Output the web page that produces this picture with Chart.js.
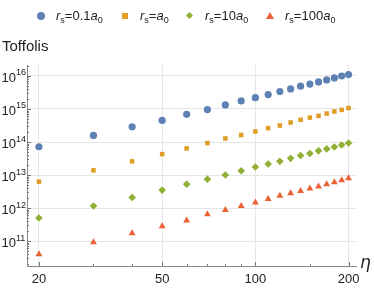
<!DOCTYPE html>
<html>
<head>
<meta charset="utf-8">
<script src="https://cdn.jsdelivr.net/npm/chart.js@4"></script>
<style>
  body { margin: 0; background: #fff; }
  #wrap { position: relative; width: 374px; height: 289px; font-family: "Liberation Sans", Arial, sans-serif; }
  #legend { position: absolute; top: 6px; left: 0; width: 374px; height: 20px; font-size: 13px; color: #222; }
  .item { position: absolute; top: 0; white-space: nowrap; line-height: 20px; }
  .item sub { font-size: 9px; vertical-align: -3px; line-height: 0; }
  .mk { position: absolute; }
  #ytitle { position: absolute; left: 2px; top: 37px; font-size: 15px; color: #222; }
  canvas { position: absolute; left: 0; top: 0; }
</style>
</head>
<body>
<div id="wrap">
  <canvas id="chart" width="374" height="289"></canvas>
  <div id="legend">
    <span class="mk" style="left:37px;top:6px;width:8px;height:8px;border-radius:50%;background:#5e81b5"></span>
    <span class="item" style="left:56px"><i>r</i><sub>s</sub>=0.1<i>a</i><sub>0</sub></span>
    <span class="mk" style="left:122px;top:7px;width:6px;height:6px;background:#e19c24"></span>
    <span class="item" style="left:140px"><i>r</i><sub>s</sub>=<i>a</i><sub>0</sub></span>
    <span class="mk" style="left:187px;top:7px;width:5px;height:5px;background:#8fb032;transform:rotate(45deg)"></span>
    <span class="item" style="left:205px"><i>r</i><sub>s</sub>=10<i>a</i><sub>0</sub></span>
    <span class="mk" style="left:266px;top:6px;width:0;height:0;border-left:4px solid transparent;border-right:4px solid transparent;border-bottom:7px solid #eb6235"></span>
    <span class="item" style="left:285px"><i>r</i><sub>s</sub>=100<i>a</i><sub>0</sub></span>
  </div>
  <div id="ytitle">Toffolis</div>
</div>
<script>
// eta values
const etas = [20, 30, 40, 50, 60, 70, 80, 90, 100, 110, 120, 130, 140, 150, 160, 170, 180, 190, 200];

// Toffoli counts
const rs01 = [7.2e13, 1.58e14, 2.9e14, 4.5e14, 6.9e14, 9.6e14, 1.33e15, 1.76e15, 2.2e15, 2.73e15,
              3.36e15, 4.05e15, 4.9e15, 5.7e15, 6.6e15, 7.6e15, 8.7e15, 1.0e16, 1.1e16];
const rs1 = [6.3e12, 1.39e13, 2.6e13, 4.3e13, 6.4e13, 9.3e13, 1.28e14, 1.63e14, 2.09e14, 2.64e14,
             3.16e14, 3.9e14, 4.7e14, 5.5e14, 6.2e14, 7.3e14, 8.4e14, 9.4e14, 1.07e15];
const rs10 = [5.0e11, 1.15e12, 2.1e12, 3.5e12, 5.3e12, 7.5e12, 1.0e13, 1.35e13, 1.75e13, 2.15e13,
              2.6e13, 3.2e13, 3.9e13, 4.5e13, 5.4e13, 6.2e13, 7.1e13, 8.1e13, 9.3e13];
const rs100 = [4.0e10, 9.3e10, 1.74e11, 2.8e11, 4.2e11, 6.5e11, 8.8e11, 1.16e12, 1.47e12, 1.87e12,
               2.35e12, 2.83e12, 3.3e12, 3.9e12, 4.5e12, 5.3e12, 6.1e12, 7.0e12, 8.0e12];

const xMajor = [20, 50, 100, 200];
const xMinor = [30, 40, 60, 70, 80, 90, 150];
const yExps = [11, 12, 13, 14, 15, 16];

const toPts = arr => arr.map((v, i) => ({ x: etas[i], y: v }));

// draws tick marks and labels (Mathematica style, ticks pointing inward)
const axisDeco = {
    id: 'axisDeco',
    afterDraw(chart) {
        const ctx = chart.ctx;
        const xs = chart.scales.x, ys = chart.scales.y;
        const ca = chart.chartArea;
        ctx.save();
        ctx.strokeStyle = '#777';
        ctx.lineWidth = 1;
        ctx.fillStyle = '#222';

        // y ticks
        for (let k = 10; k <= 16; k++) {
            for (let m = 1; m <= 9; m++) {
                const v = m * Math.pow(10, k);
                const py = ys.getPixelForValue(v);
                if (py < ca.top || py > ca.bottom) continue;
                const len = m === 1 ? 4 : 2;
                ctx.beginPath();
                ctx.moveTo(ca.left, Math.round(py) + 0.5);
                ctx.lineTo(ca.left + len, Math.round(py) + 0.5);
                ctx.stroke();
            }
        }
        yExps.forEach(e => {
            const py = ys.getPixelForValue(Math.pow(10, e));
            ctx.font = '13px "Liberation Sans", Arial, sans-serif';
            ctx.textAlign = 'right';
            ctx.textBaseline = 'middle';
            ctx.fillText('10', 16, py + 2);
            ctx.font = '9px "Liberation Sans", Arial, sans-serif';
            ctx.textAlign = 'left';
            ctx.fillText(String(e), 16, py - 3);
        });

        // x ticks
        xMajor.concat(xMinor).forEach(v => {
            const px = xs.getPixelForValue(v);
            const len = xMajor.includes(v) ? 4 : 2;
            ctx.beginPath();
            ctx.moveTo(Math.round(px) + 0.5, ca.bottom);
            ctx.lineTo(Math.round(px) + 0.5, ca.bottom - len);
            ctx.stroke();
        });
        ctx.font = '13px "Liberation Sans", Arial, sans-serif';
        ctx.textAlign = 'center';
        ctx.textBaseline = 'middle';
        xMajor.forEach(v => {
            ctx.fillText(String(v), xs.getPixelForValue(v), ca.bottom + 13);
        });

        // axis label
        ctx.font = 'italic 17px "DejaVu Sans", sans-serif';
        ctx.textAlign = 'left';
        ctx.fillText('η', ca.right + 4, ca.bottom - 2);
        ctx.restore();
    }
};

const ctx = document.getElementById('chart').getContext('2d');
new Chart(ctx, {
    type: 'scatter',
    data: {
        datasets: [
            { data: toPts(rs01), pointStyle: 'circle', radius: 3.6, backgroundColor: '#5e81b5', borderWidth: 0 },
            { data: toPts(rs1), pointStyle: 'rect', radius: 3.2, backgroundColor: '#e19c24', borderWidth: 0 },
            { data: toPts(rs10), pointStyle: 'rectRot', radius: 3.8, backgroundColor: '#8fb032', borderWidth: 0 },
            { data: toPts(rs100), pointStyle: 'triangle', radius: 4, backgroundColor: '#eb6235', borderWidth: 0 }
        ]
    },
    options: {
        responsive: false,
        animation: false,
        events: [],
        layout: { padding: { left: 27, right: 18, top: 65, bottom: 23 } },
        plugins: { legend: { display: false }, tooltip: { enabled: false } },
        scales: {
            x: {
                type: 'logarithmic',
                min: 18.3,
                max: 211.4,
                afterBuildTicks: s => { s.ticks = xMajor.map(v => ({ value: v })); },
                ticks: { display: false },
                grid: { color: '#e6e6e6', drawTicks: false },
                border: { color: '#888', width: 1 }
            },
            y: {
                type: 'logarithmic',
                min: 1.76e10,
                max: 2.15e16,
                afterBuildTicks: s => { s.ticks = yExps.map(e => ({ value: Math.pow(10, e) })); },
                ticks: { display: false },
                grid: { color: '#e6e6e6', drawTicks: false },
                border: { color: '#888', width: 1 }
            }
        }
    },
    plugins: [axisDeco]
});
</script>
</body>
</html>
